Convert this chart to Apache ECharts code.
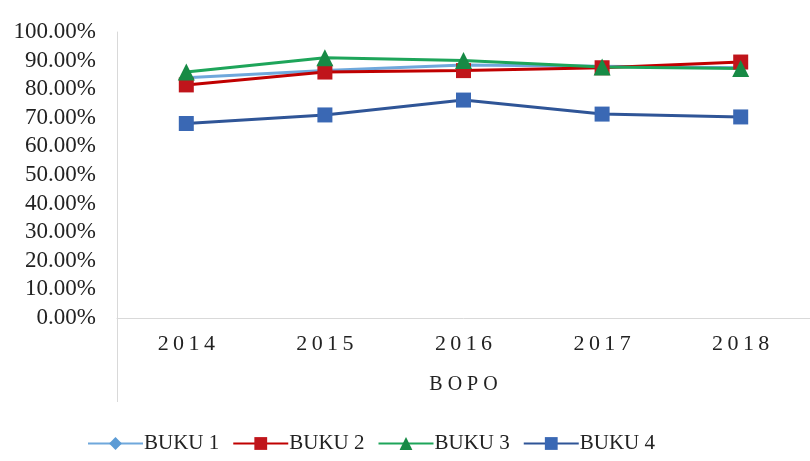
<!DOCTYPE html>
<html>
<head>
<meta charset="utf-8">
<script src="https://cdn.jsdelivr.net/npm/echarts@6/dist/echarts.min.js"></script>
<style>
html,body{margin:0;padding:0;background:#fff;}
#main{width:810px;height:461px;}
</style>
</head>
<body>
<div id="main"></div>
<script>
var years = ['2014', '2015', '2016', '2017', '2018'];
var buku1 = [84.0, 86.5, 88.5, 88.0, 87.5];
var buku2 = [81.5, 86.0, 86.5, 87.5, 89.5];
var buku3 = [86.0, 91.0, 90.0, 87.8, 87.2];
var buku4 = [68.0, 71.0, 76.2, 71.3, 70.3];
var yTicks = [0, 10, 20, 30, 40, 50, 60, 70, 80, 90, 100];

var chart = echarts.init(document.getElementById('main'));
var font = 'Liberation Serif';

// spread the letters a little, like the original axis text
function spaced(v, gap){
    return String(v).split('').join(gap || '\u2009');
}

var option = {
    animation: false,
    grid: {left: 117, top: 32, width: 701, height: 286},
    legend: {
        bottom: 2,
        left: 82,
        itemWidth: 55,
        itemHeight: 16,
        itemGap: 13,
        textStyle: {fontFamily: font, fontSize: 21, color: '#222', padding: [0, 0, 0, -4]},
        data: ['BUKU 1', 'BUKU 2', 'BUKU 3', 'BUKU 4']
    },
    xAxis: {
        type: 'category',
        data: years,
        name: spaced('BOPO', ' '),
        nameLocation: 'middle',
        nameGap: 57,
        nameTextStyle: {fontFamily: font, fontSize: 20, color: '#222'},
        axisLine: {lineStyle: {color: '#d9d9d9', width: 1}},
        axisTick: {show: false},
        axisLabel: {fontFamily: font, fontSize: 22, color: '#222', margin: 15, formatter: function(v){ return spaced(v); }}
    },
    yAxis: {
        type: 'value',
        min: yTicks[0],
        max: yTicks[yTicks.length - 1],
        interval: 10,
        splitLine: {show: false},
        axisLine: {show: true, lineStyle: {color: '#d9d9d9', width: 1}},
        axisTick: {show: false},
        axisLabel: {fontFamily: font, fontSize: 23, color: '#222', margin: 21,
            formatter: function(v){ return v.toFixed(2) + '%'; }}
    },
    graphic: [{
        type: 'line',
        shape: {x1: 117.5, y1: 318, x2: 117.5, y2: 402},
        style: {stroke: '#d9d9d9', lineWidth: 1}
    }],
    series: [
        {
            name: 'BUKU 1', type: 'line', data: buku1,
            symbol: 'diamond', symbolSize: 10,
            lineStyle: {color: '#6fa8dc', width: 3},
            itemStyle: {color: '#5b9bd5'}
        },
        {
            name: 'BUKU 2', type: 'line', data: buku2,
            symbol: 'rect', symbolSize: 15,
            lineStyle: {color: '#c00000', width: 3},
            itemStyle: {color: '#c0151b'}
        },
        {
            name: 'BUKU 3', type: 'line', data: buku3,
            symbol: 'triangle', symbolSize: 17,
            lineStyle: {color: '#1ea55a', width: 3},
            itemStyle: {color: '#178a45'}
        },
        {
            name: 'BUKU 4', type: 'line', data: buku4,
            symbol: 'rect', symbolSize: 15,
            lineStyle: {color: '#2f5597', width: 3},
            itemStyle: {color: '#3a68b4'}
        }
    ]
};
chart.setOption(option);
</script>
</body>
</html>
